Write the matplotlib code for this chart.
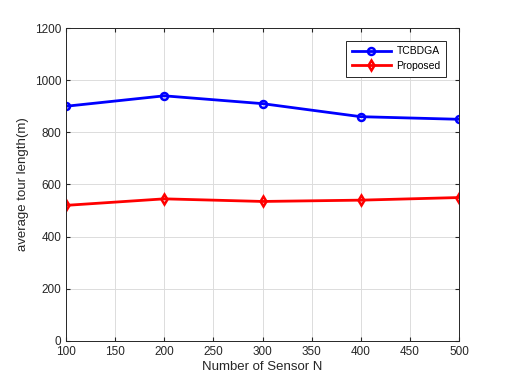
import matplotlib
matplotlib.use("Agg")
import matplotlib.pyplot as plt

x_vals = [100, 200, 300, 400, 500]
tcbdga = [900, 940, 910, 860, 850]
proposed = [520, 545, 535, 540, 550]
x_ticks = [100, 150, 200, 250, 300, 350, 400, 450, 500]
y_ticks = [0, 200, 400, 600, 800, 1000, 1200]

plt.rcParams['font.family'] = ['Liberation Sans', 'DejaVu Sans']
fig = plt.figure(figsize=(5.08, 3.81), dpi=100)
ax = fig.add_axes([0.13, 0.105, 0.7735, 0.8215])
ax.plot(x_vals, tcbdga, color='#0000ff', lw=2, marker='o', ms=5, mfc='none', mew=1.8, label='TCBDGA')
ax.plot(x_vals, proposed, color='#ff0000', lw=2, marker='d', ms=5, mfc='none', mew=1.8, label='Proposed')
ax.set_xlim(100, 500)
ax.set_ylim(0, 1200)
ax.set_xticks(x_ticks)
ax.set_yticks(y_ticks)
ax.grid(True, color='#dcdcdc', lw=0.7)
ax.set_axisbelow(True)
ax.tick_params(direction='in', length=3, labelsize=8.5, colors='#262626', top=True, right=True)
for s in ax.spines.values():
    s.set_color('#262626')
    s.set_linewidth(0.7)
ax.set_xlabel('Number of Sensor N', fontsize=9.5, color='#262626', labelpad=2)
ax.set_ylabel('average tour length(m)', fontsize=9.5, color='#262626', labelpad=4)
leg = ax.legend(loc='upper right', fontsize=7.5, fancybox=False, framealpha=1, edgecolor='#262626',
                handlelength=3.8, borderaxespad=1.2, borderpad=0.55, labelspacing=0.45, handletextpad=0.5)
leg.get_frame().set_linewidth(0.7)
fig.savefig('out.png', dpi=100)
